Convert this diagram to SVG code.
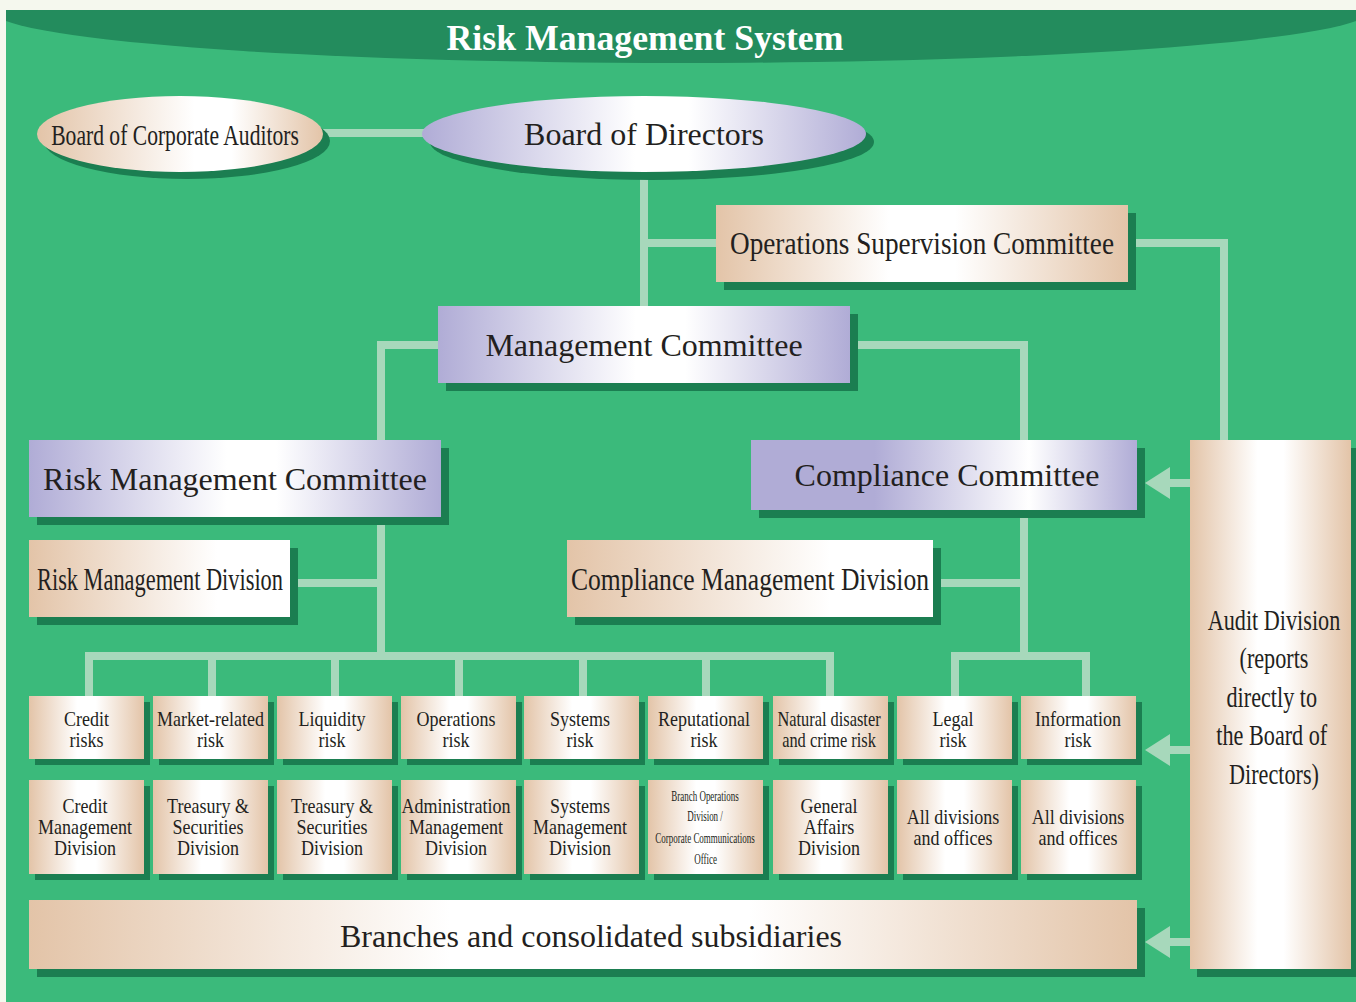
<svg xmlns="http://www.w3.org/2000/svg" width="1356" height="1002" viewBox="0 0 1356 1002">
<defs>
<linearGradient id="gTan3" x1="0" y1="0" x2="1" y2="0">
<stop offset="0" stop-color="#e3c4a8"/><stop offset="0.42" stop-color="#ffffff"/><stop offset="0.58" stop-color="#ffffff"/><stop offset="1" stop-color="#e3c4a8"/>
</linearGradient>
<linearGradient id="gTanE" x1="0" y1="0" x2="1" y2="0">
<stop offset="0" stop-color="#e3c4a8"/><stop offset="0.55" stop-color="#ffffff"/><stop offset="0.68" stop-color="#ffffff"/><stop offset="1" stop-color="#e3c4a8"/>
</linearGradient>
<linearGradient id="gLav3" x1="0" y1="0" x2="1" y2="0">
<stop offset="0" stop-color="#b0acd6"/><stop offset="0.48" stop-color="#ffffff"/><stop offset="0.6" stop-color="#ffffff"/><stop offset="1" stop-color="#b0acd6"/>
</linearGradient>
<linearGradient id="gLavC" x1="0" y1="0" x2="1" y2="0">
<stop offset="0" stop-color="#b0acd6"/><stop offset="0.32" stop-color="#b0acd6"/><stop offset="0.72" stop-color="#ffffff"/><stop offset="1" stop-color="#b0acd6"/>
</linearGradient>
<linearGradient id="gTanL" x1="0" y1="0" x2="1" y2="0">
<stop offset="0" stop-color="#e3c4a8"/><stop offset="0.72" stop-color="#ffffff"/><stop offset="1" stop-color="#ffffff"/>
</linearGradient>
<linearGradient id="gTanB" x1="0" y1="0" x2="1" y2="0">
<stop offset="0" stop-color="#e3c4a8"/><stop offset="0.38" stop-color="#ffffff"/><stop offset="0.65" stop-color="#ffffff"/><stop offset="1" stop-color="#e3c4a8"/>
</linearGradient>
<clipPath id="clipG"><rect x="6" y="10" width="1350" height="992"/></clipPath>
<style>
.sh{fill:#1b7e51}
.t{font-family:"Liberation Serif","Times New Roman",serif;fill:#231f20;text-anchor:middle}
.s{font-size:20px}
.c{fill:none;stroke:#a7d8bb;stroke-width:8}
.ar{fill:#a7d8bb}
.box{fill:url(#gTan3)}
</style>
</defs>

<rect x="0" y="0" width="1356" height="1002" fill="#f5f8ee"/>
<rect x="6" y="10" width="1350" height="992" fill="#3bba7b"/>
<ellipse cx="681" cy="10" rx="690" ry="53" fill="#238c5d" clip-path="url(#clipG)"/>
<text x="645" y="50" font-family="Liberation Serif, Times New Roman, serif" font-weight="bold" font-size="36" fill="#ffffff" text-anchor="middle" textLength="397" lengthAdjust="spacingAndGlyphs">Risk Management System</text>

<g id="connectors">
<path class="c" d="M322 133 H425"/>
<path class="c" d="M644 172 V306"/>
<path class="c" d="M644 243 H716"/>
<path class="c" d="M1128 243 H1224 V440"/>
<path class="c" d="M438 345 H381 V440"/>
<path class="c" d="M850 345 H1024 V440"/>
<path class="c" d="M381 517 V656"/>
<path class="c" d="M290 583 H381"/>
<path class="c" d="M89 696 V656 H830 V696"/>
<path class="c" d="M212 656 V696 M335 656 V696 M459 656 V696 M583 656 V696 M706 656 V696"/>
<path class="c" d="M1024 510 V656"/>
<path class="c" d="M933 583 H1024"/>
<path class="c" d="M955 696 V656 H1086 V696"/>
<polygon class="ar" points="1145,483 1170,467 1170,479 1190,479 1190,487 1170,487 1170,499"/>
<polygon class="ar" points="1145,750 1170,734 1170,746 1190,746 1190,754 1170,754 1170,766"/>
<polygon class="ar" points="1145,942 1170,926 1170,938 1190,938 1190,946 1170,946 1170,958"/>
</g>

<g id="auditors">
<ellipse class="sh" cx="187" cy="141" rx="143" ry="38"/>
<ellipse cx="180" cy="134" rx="143" ry="38" fill="url(#gTanE)"/>
<g transform="translate(175 145) scale(0.72 1)"><text class="t" x="0" y="0" font-size="30">Board of Corporate Auditors</text></g>
</g>

<g id="directors">
<ellipse class="sh" cx="652" cy="142" rx="222" ry="38"/>
<ellipse cx="644" cy="134" rx="222" ry="38" fill="url(#gLav3)"/>
<text class="t" x="644" y="145" font-size="32">Board of Directors</text>
</g>

<g id="ops-supervision">
<rect class="sh" x="724" y="213" width="412" height="77"/>
<rect x="716" y="205" width="412" height="77" fill="url(#gTan3)"/>
<text class="t" x="922" y="254" font-size="32" textLength="384" lengthAdjust="spacingAndGlyphs">Operations Supervision Committee</text>
</g>

<g id="management-committee">
<rect class="sh" x="446" y="314" width="412" height="77"/>
<rect x="438" y="306" width="412" height="77" fill="url(#gLav3)"/>
<text class="t" x="644" y="356" font-size="32">Management Committee</text>
</g>

<g id="risk-committee">
<rect class="sh" x="37" y="448" width="412" height="77"/>
<rect x="29" y="440" width="412" height="77" fill="url(#gLav3)"/>
<text class="t" x="235" y="490" font-size="32">Risk Management Committee</text>
</g>

<g id="risk-division">
<rect class="sh" x="37" y="548" width="261" height="77"/>
<rect x="29" y="540" width="261" height="77" fill="url(#gTanL)"/>
<text class="t" x="160" y="590" font-size="31" textLength="246" lengthAdjust="spacingAndGlyphs">Risk Management Division</text>
</g>

<g id="compliance-committee">
<rect class="sh" x="759" y="448" width="386" height="70"/>
<rect x="751" y="440" width="386" height="70" fill="url(#gLavC)"/>
<text class="t" x="947" y="486" font-size="32">Compliance Committee</text>
</g>

<g id="compliance-division">
<rect class="sh" x="575" y="548" width="366" height="77"/>
<rect x="567" y="540" width="366" height="77" fill="url(#gTanL)"/>
<text class="t" x="750" y="590" font-size="31" textLength="358" lengthAdjust="spacingAndGlyphs">Compliance Management Division</text>
</g>

<g id="risk-row">
<g id="r-credit"><rect class="sh" x="35" y="702" width="115" height="63"/><rect class="box" x="29" y="696" width="115" height="63"/>
<g transform="translate(86.5 0) scale(0.9 1)"><text class="t s" x="0" y="726">Credit</text><text class="t s" x="0" y="747">risks</text></g></g>
<g id="r-market"><rect class="sh" x="159" y="702" width="115" height="63"/><rect class="box" x="153" y="696" width="115" height="63"/>
<g transform="translate(210.5 0) scale(0.9 1)"><text class="t s" x="0" y="726">Market-related</text><text class="t s" x="0" y="747">risk</text></g></g>
<g id="r-liquidity"><rect class="sh" x="283" y="702" width="115" height="63"/><rect class="box" x="277" y="696" width="115" height="63"/>
<g transform="translate(332 0) scale(0.9 1)"><text class="t s" x="0" y="726">Liquidity</text><text class="t s" x="0" y="747">risk</text></g></g>
<g id="r-operations"><rect class="sh" x="407" y="702" width="115" height="63"/><rect class="box" x="401" y="696" width="115" height="63"/>
<g transform="translate(456 0) scale(0.9 1)"><text class="t s" x="0" y="726">Operations</text><text class="t s" x="0" y="747">risk</text></g></g>
<g id="r-systems"><rect class="sh" x="530" y="702" width="115" height="63"/><rect class="box" x="524" y="696" width="115" height="63"/>
<g transform="translate(580 0) scale(0.9 1)"><text class="t s" x="0" y="726">Systems</text><text class="t s" x="0" y="747">risk</text></g></g>
<g id="r-reputational"><rect class="sh" x="654" y="702" width="115" height="63"/><rect class="box" x="648" y="696" width="115" height="63"/>
<g transform="translate(704 0) scale(0.9 1)"><text class="t s" x="0" y="726">Reputational</text><text class="t s" x="0" y="747">risk</text></g></g>
<g id="r-natural"><rect class="sh" x="779" y="702" width="115" height="63"/><rect class="box" x="773" y="696" width="115" height="63"/>
<g transform="translate(829 0) scale(0.82 1)"><text class="t s" x="0" y="726">Natural disaster</text><text class="t s" x="0" y="747">and crime risk</text></g></g>
<g id="r-legal"><rect class="sh" x="903" y="702" width="115" height="63"/><rect class="box" x="897" y="696" width="115" height="63"/>
<g transform="translate(953 0) scale(0.9 1)"><text class="t s" x="0" y="726">Legal</text><text class="t s" x="0" y="747">risk</text></g></g>
<g id="r-information"><rect class="sh" x="1027" y="702" width="115" height="63"/><rect class="box" x="1021" y="696" width="115" height="63"/>
<g transform="translate(1078 0) scale(0.9 1)"><text class="t s" x="0" y="726">Information</text><text class="t s" x="0" y="747">risk</text></g></g>
</g>

<g id="division-row">
<g id="d-credit"><rect class="sh" x="35" y="786" width="115" height="94"/><rect class="box" x="29" y="780" width="115" height="94"/>
<g transform="translate(85 0) scale(0.9 1)"><text class="t s" x="0" y="813">Credit</text><text class="t s" x="0" y="834">Management</text><text class="t s" x="0" y="855">Division</text></g></g>
<g id="d-treasury1"><rect class="sh" x="159" y="786" width="115" height="94"/><rect class="box" x="153" y="780" width="115" height="94"/>
<g transform="translate(208 0) scale(0.9 1)"><text class="t s" x="0" y="813">Treasury &amp;</text><text class="t s" x="0" y="834">Securities</text><text class="t s" x="0" y="855">Division</text></g></g>
<g id="d-treasury2"><rect class="sh" x="283" y="786" width="115" height="94"/><rect class="box" x="277" y="780" width="115" height="94"/>
<g transform="translate(332 0) scale(0.9 1)"><text class="t s" x="0" y="813">Treasury &amp;</text><text class="t s" x="0" y="834">Securities</text><text class="t s" x="0" y="855">Division</text></g></g>
<g id="d-admin"><rect class="sh" x="407" y="786" width="115" height="94"/><rect class="box" x="401" y="780" width="115" height="94"/>
<g transform="translate(456 0) scale(0.9 1)"><text class="t s" x="0" y="813">Administration</text><text class="t s" x="0" y="834">Management</text><text class="t s" x="0" y="855">Division</text></g></g>
<g id="d-systems"><rect class="sh" x="530" y="786" width="115" height="94"/><rect class="box" x="524" y="780" width="115" height="94"/>
<g transform="translate(580 0) scale(0.9 1)"><text class="t s" x="0" y="813">Systems</text><text class="t s" x="0" y="834">Management</text><text class="t s" x="0" y="855">Division</text></g></g>
<g id="d-branchops"><rect class="sh" x="654" y="786" width="115" height="94"/><rect class="box" x="648" y="780" width="115" height="94"/>
<g transform="translate(705 0) scale(0.6 1)">
<text class="t" x="0" y="801" font-size="15">Branch Operations</text>
<text class="t" x="0" y="821" font-size="15">Division /</text>
<text class="t" x="0" y="843" font-size="15">Corporate Communications</text>
<text class="t" x="1" y="864" font-size="15">Office</text></g></g>
<g id="d-general"><rect class="sh" x="779" y="786" width="115" height="94"/><rect class="box" x="773" y="780" width="115" height="94"/>
<g transform="translate(829 0) scale(0.9 1)"><text class="t s" x="0" y="813">General</text><text class="t s" x="0" y="834">Affairs</text><text class="t s" x="0" y="855">Division</text></g></g>
<g id="d-all1"><rect class="sh" x="903" y="786" width="115" height="94"/><rect class="box" x="897" y="780" width="115" height="94"/>
<g transform="translate(953 0) scale(0.9 1)"><text class="t s" x="0" y="824">All divisions</text><text class="t s" x="0" y="845">and offices</text></g></g>
<g id="d-all2"><rect class="sh" x="1027" y="786" width="115" height="94"/><rect class="box" x="1021" y="780" width="115" height="94"/>
<g transform="translate(1078 0) scale(0.9 1)"><text class="t s" x="0" y="824">All divisions</text><text class="t s" x="0" y="845">and offices</text></g></g>
</g>

<g id="branches">
<rect class="sh" x="37" y="908" width="1108" height="69"/>
<rect x="29" y="900" width="1108" height="69" fill="url(#gTanB)"/>
<text class="t" x="591" y="947" font-size="32">Branches and consolidated subsidiaries</text>
</g>

<g id="audit">
<rect class="sh" x="1197" y="448" width="161" height="529"/>
<rect x="1190" y="440" width="161" height="529" fill="url(#gTan3)"/>
<g transform="translate(1274 0) scale(0.74 1)">
<text class="t" x="0" y="630" font-size="30">Audit Division</text>
<text class="t" x="0" y="668" font-size="30">(reports</text>
<text class="t" x="-3" y="707" font-size="30">directly to</text>
<text class="t" x="-3" y="745" font-size="30">the Board of</text>
<text class="t" x="0" y="784" font-size="30">Directors)</text>
</g>
</g>
</svg>
